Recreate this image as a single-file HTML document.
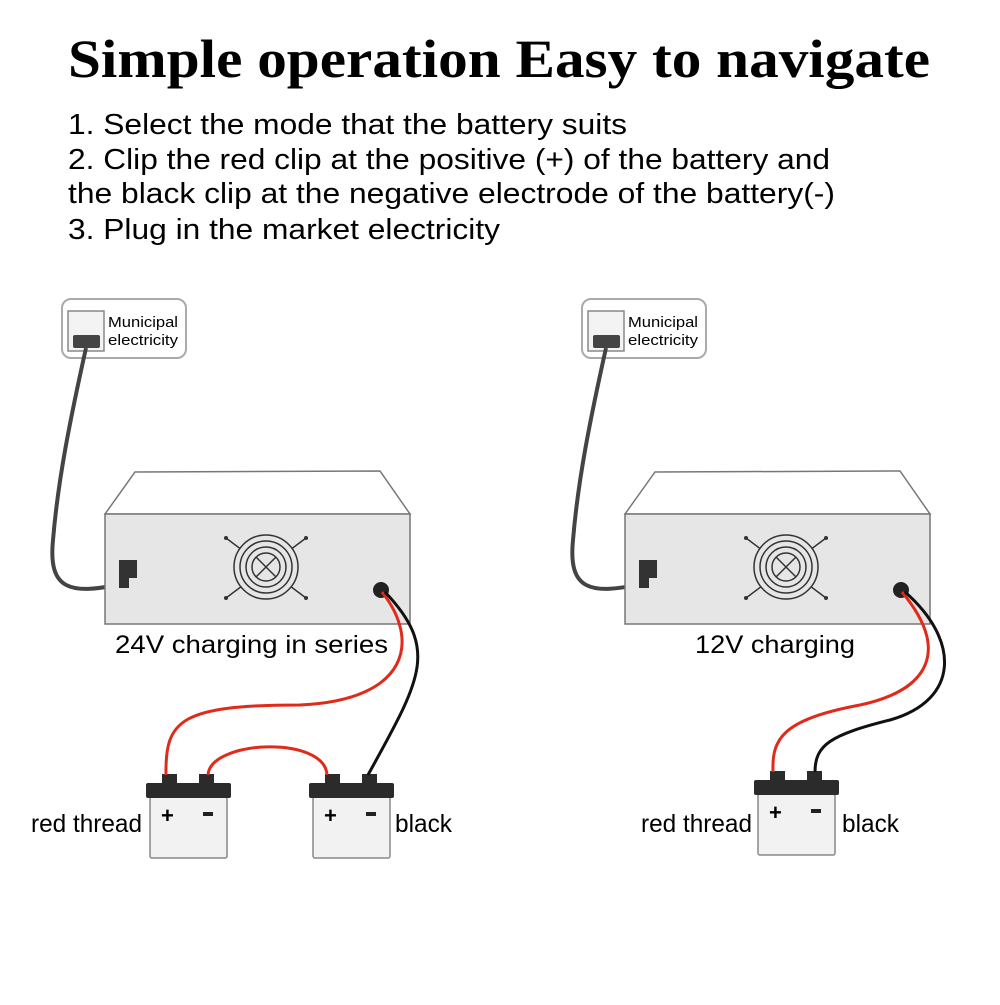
<!DOCTYPE html>
<html><head><style>
body{margin:0;background:#fff;width:1000px;height:1000px;overflow:hidden;font-family:"Liberation Sans",sans-serif}
</style></head><body>
<svg width="1000" height="1000" viewBox="0 0 1000 1000" xmlns="http://www.w3.org/2000/svg">
<text x="68" y="77" textLength="862" lengthAdjust="spacingAndGlyphs" font-family="Liberation Serif" font-weight="bold" font-size="54">Simple operation Easy to navigate</text>
<g font-size="29" font-family="Liberation Sans">
<text x="68" y="134" textLength="559" lengthAdjust="spacingAndGlyphs">1. Select the mode that the battery suits</text>
<text x="68" y="169" textLength="762" lengthAdjust="spacingAndGlyphs">2. Clip the red clip at the positive (+) of the battery and</text>
<text x="68" y="203" textLength="767" lengthAdjust="spacingAndGlyphs">the black clip at the negative electrode of the battery(-)</text>
<text x="68" y="239" textLength="432" lengthAdjust="spacingAndGlyphs">3. Plug in the market electricity</text>
</g>
<defs>
<g id="unit">
<rect x="62" y="299" width="124" height="59" rx="9" fill="#fff" stroke="#aaa" stroke-width="2"/>
<rect x="68" y="311" width="36" height="40" fill="#f3f3f3" stroke="#888" stroke-width="1.5"/>
<rect x="73" y="335" width="27" height="13" rx="2" fill="#444"/>
<text x="108" y="327" font-size="15" textLength="70" lengthAdjust="spacingAndGlyphs">Municipal</text>
<text x="108" y="345" font-size="15" textLength="70" lengthAdjust="spacingAndGlyphs">electricity</text>
<path d="M86 348 C70 420,58 480,53 540 C48 590,70 596,125 583" fill="none" stroke="#444" stroke-width="4"/>
<polygon points="105,514 135,472 380,471 410,514" fill="#fff" stroke="#777" stroke-width="1.5"/>
<rect x="105" y="514" width="305" height="110" fill="#e6e6e6" stroke="#777" stroke-width="1.5"/>
<rect x="119" y="560" width="18" height="18" fill="#333"/>
<rect x="119" y="574" width="10" height="14" fill="#333"/>
<g stroke="#333" fill="none" stroke-width="1.5">
<line x1="226" y1="538" x2="306" y2="598"/><line x1="306" y1="538" x2="226" y2="598"/>
<circle cx="266" cy="567" r="32" fill="#e6e6e6"/><circle cx="266" cy="567" r="26"/><circle cx="266" cy="567" r="20"/><circle cx="266" cy="567" r="14"/>
<line x1="256" y1="557" x2="276" y2="577"/><line x1="276" y1="557" x2="256" y2="577"/>
</g>
<g fill="#333"><circle cx="226" cy="538" r="2"/><circle cx="306" cy="538" r="2"/><circle cx="226" cy="598" r="2"/><circle cx="306" cy="598" r="2"/></g>
<circle cx="381" cy="590" r="8" fill="#222"/>
</g>
<g id="bat">
<rect x="150" y="797" width="77" height="61" rx="2" fill="#f2f2f2" stroke="#888" stroke-width="1.5"/>
<rect x="146" y="783" width="85" height="15" rx="2" fill="#2b2b2b"/>
<rect x="162" y="774" width="15" height="10" fill="#2b2b2b"/>
<rect x="199" y="774" width="15" height="10" fill="#2b2b2b"/>
<text x="161" y="823" font-size="22" font-weight="bold">+</text>
<rect x="203" y="812" width="10" height="4" fill="#222"/>
</g>
</defs>
<use href="#unit"/>
<use href="#unit" x="520"/>
<use href="#bat"/>
<use href="#bat" x="163"/>
<use href="#bat" x="608" y="-3"/>
<path d="M382 592 C420 640,410 700,300 705 C180 705,165 720,166 775" fill="none" stroke="#e02a1a" stroke-width="3"/>
<path d="M208 775 C210 740,325 735,327 775" fill="none" stroke="#e02a1a" stroke-width="3"/>
<path d="M385 592 C440 650,420 680,368 775" fill="none" stroke="#111" stroke-width="3"/>
<path d="M902 592 C950 650,930 690,860 705 C780 720,772 740,773 772" fill="none" stroke="#e02a1a" stroke-width="3"/>
<path d="M905 592 C960 640,960 700,890 720 C830 735,815 745,815 772" fill="none" stroke="#111" stroke-width="3"/>
<g font-size="25">
<text x="115" y="653" textLength="273" lengthAdjust="spacingAndGlyphs">24V charging in series</text>
<text x="695" y="653" textLength="160" lengthAdjust="spacingAndGlyphs">12V charging</text>
<text x="31" y="832" textLength="111" lengthAdjust="spacingAndGlyphs">red thread</text>
<text x="395" y="832" textLength="57" lengthAdjust="spacingAndGlyphs">black</text>
<text x="641" y="832" textLength="111" lengthAdjust="spacingAndGlyphs">red thread</text>
<text x="842" y="832" textLength="57" lengthAdjust="spacingAndGlyphs">black</text>
</g>
</svg>
</body></html>
